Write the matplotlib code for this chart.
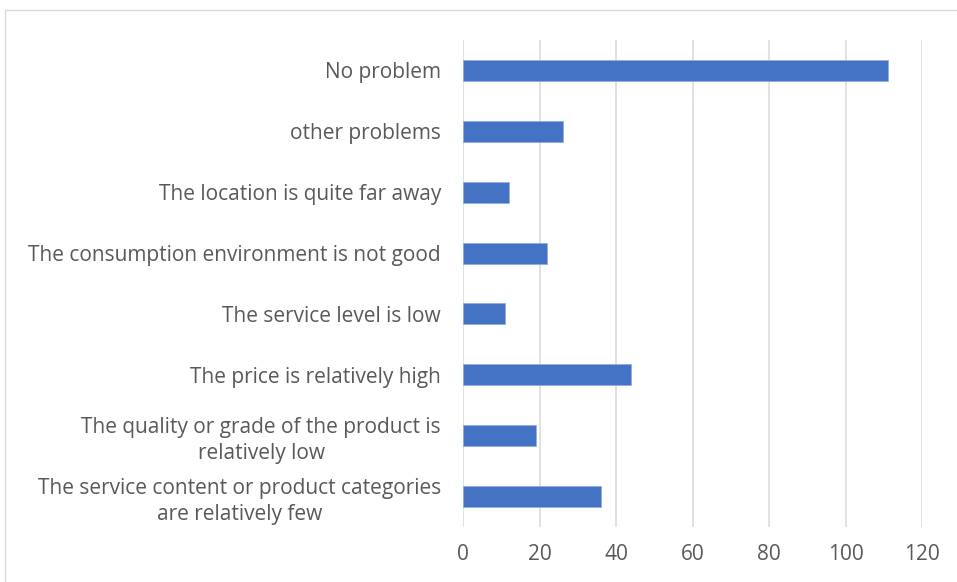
import matplotlib
matplotlib.use("Agg")
import matplotlib.pyplot as plt
from matplotlib.patches import Rectangle

categories = [
    "No problem",
    "other problems",
    "The location is quite far away",
    "The consumption environment is not good",
    "The service level is low",
    "The price is relatively high",
    "The quality or grade of the product is\nrelatively low",
    "The service content or product categories\nare relatively few",
]
values = [111, 26, 12, 22, 11, 44, 19, 36]
xticks = [0, 20, 40, 60, 80, 100, 120]

plt.rcParams['font.family'] = ['Open Sans', 'DejaVu Sans']

fig = plt.figure(figsize=(9.57, 5.82), dpi=100)
ax = fig.add_axes([463.3/957, 1-527/582, (922-463.3)/957, (527-40)/582])

# outer chart border
fig.patches.append(Rectangle((5/957, -0.1), 1.2, 1-10/582+0.1, transform=fig.transFigure,
                             fill=False, edgecolor='#d9d9d9', linewidth=1.0))

y = list(range(len(categories)))
ax.barh(y, values, height=0.345, color='#4472C4', edgecolor='#8faadc', linewidth=0.5, zorder=3)
ax.set_ylim(len(categories)-0.5, -0.5)
ax.set_xlim(0, 120)
ax.set_xticks(xticks)
ax.set_xticklabels([str(t) for t in xticks])
ax.set_yticks(y)
ax.set_yticklabels(categories)
for lbl in ax.get_yticklabels():
    lbl.set_multialignment('center')
    lbl.set_linespacing(1.32)

ax.grid(axis='x', color='#d9d9d9', linewidth=1.1, zorder=0)
for s in ax.spines.values():
    s.set_visible(False)
ax.tick_params(axis='both', length=0, colors='#595959', labelsize=15)
ax.tick_params(axis='y', pad=16)
ax.tick_params(axis='x', pad=12)

fig.savefig('out.png', dpi=100)
